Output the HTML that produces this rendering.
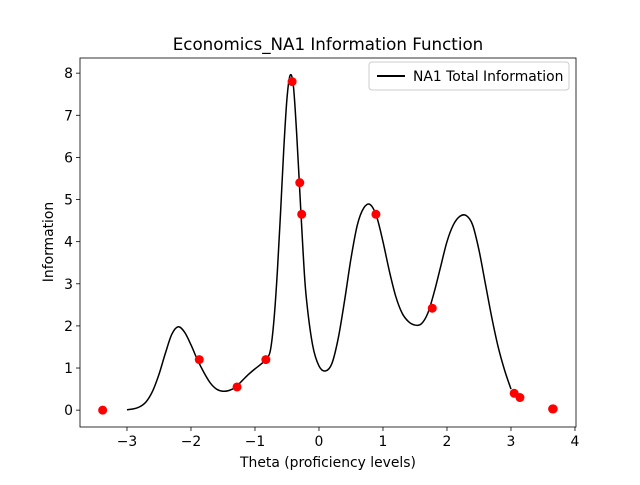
<!DOCTYPE html>
<html><head><meta charset="utf-8"><style>
body{margin:0;background:#fff;}
svg text{font-family:"DejaVu Sans","Liberation Sans",sans-serif;fill:#000;}
</style></head><body>
<svg id="chart" width="640" height="480" xmlns="http://www.w3.org/2000/svg">
<rect width="640" height="480" fill="#fff"/>
<text x="328" y="50" font-size="16.7" text-anchor="middle">Economics_NA1 Information Function</text>
<g id="plot"></g>
<text x="328" y="467" font-size="13.9" text-anchor="middle">Theta (proficiency levels)</text>
<text transform="translate(53,242) rotate(-90)" font-size="13.9" text-anchor="middle">Information</text>
<g>
<rect x="369" y="62" width="200" height="28" rx="3" fill="#fff" stroke="#ccc"/>
<line x1="377" y1="76" x2="405" y2="76" stroke="#000" stroke-width="2"/>
<text x="413" y="81" font-size="13.9">NA1 Total Information</text>
</g>
</svg>
<script>
const thetaVals=[-3.0,-2.9,-2.8,-2.7,-2.6,-2.5,-2.4,-2.3,-2.2,-2.1,-2.0,-1.9,-1.8,-1.7,-1.6,-1.5,-1.4,-1.3,-1.2,-1.1,-1.0,-0.9,-0.8,-0.75,-0.7,-0.65,-0.6,-0.55,-0.5,-0.45,-0.4,-0.35,-0.3,-0.25,-0.2,-0.1,0.0,0.1,0.2,0.3,0.4,0.5,0.6,0.7,0.8,0.9,1.0,1.1,1.2,1.3,1.4,1.5,1.6,1.7,1.8,1.9,2.0,2.1,2.2,2.3,2.4,2.5,2.6,2.7,2.8,2.9,3.0];
const infoVals=[0.01,0.03,0.08,0.2,0.45,0.85,1.35,1.8,1.98,1.85,1.55,1.2,0.9,0.65,0.5,0.45,0.47,0.55,0.7,0.85,0.98,1.1,1.25,1.5,2.2,3.3,4.7,6.2,7.4,7.95,7.7,6.6,5.2,3.8,2.7,1.55,1.05,0.93,1.1,1.7,2.6,3.6,4.4,4.8,4.88,4.6,4.0,3.3,2.7,2.3,2.1,2.02,2.05,2.3,2.8,3.4,4.0,4.4,4.6,4.62,4.4,3.8,3.0,2.2,1.5,0.95,0.5];
const pointTheta=[-3.38,-1.87,-1.28,-0.83,-0.42,-0.30,-0.27,0.89,1.77,3.05,3.14,3.65,3.66];
const pointInfo=[0.0,1.2,0.55,1.2,7.8,5.4,4.65,4.65,2.42,0.4,0.3,0.03,0.03];
const xTicks=[-3,-2,-1,0,1,2,3,4];
const yTicks=[0,1,2,3,4,5,6,7,8];

const L=80,R=576,T=58,B=427;
const xMin=-3.734,xMax=4.016,yMin=-0.40,yMax=8.36;
const sx=v=>L+(v-xMin)/(xMax-xMin)*(R-L);
const sy=v=>B-(v-yMin)/(yMax-yMin)*(B-T);
const NS="http://www.w3.org/2000/svg";
const g=document.getElementById('plot');
function mk(tag,attrs){const e=document.createElementNS(NS,tag);for(const k in attrs)e.setAttribute(k,attrs[k]);g.appendChild(e);return e;}

xTicks.forEach(t=>{
  const x=sx(t);
  const tk=mk('line',{x1:x,y1:B,x2:x,y2:B+4,stroke:'#000','stroke-width':0.8});
  
  
  const tx=mk('text',{x:x,y:B+19,'font-size':13.9,'text-anchor':'middle'});
  tx.textContent=(t<0?'\u2212'+(-t):String(t));
  
  
});
yTicks.forEach(t=>{
  const y=sy(t);
  const tk=mk('line',{x1:L-4,y1:y,x2:L,y2:y,stroke:'#000','stroke-width':0.8});
  
  
  const tx=mk('text',{x:L-7,y:y+5,'font-size':13.9,'text-anchor':'end'});
  tx.textContent=String(t);
  
  
});

const P=thetaVals.map((t,i)=>[sx(t),sy(infoVals[i])]);
let d='M'+P[0][0]+','+P[0][1];
for(let i=0;i<P.length-1;i++){
  const p0=P[Math.max(0,i-1)],p1=P[i],p2=P[i+1],p3=P[Math.min(P.length-1,i+2)];
  const c1=[p1[0]+(p2[0]-p0[0])/6,p1[1]+(p2[1]-p0[1])/6];
  const c2=[p2[0]-(p3[0]-p1[0])/6,p2[1]-(p3[1]-p1[1])/6];
  d+=' C'+c1+' '+c2+' '+p2;
}
const line=mk('path',{d:d,fill:'none',stroke:'#000','stroke-width':1.5});



pointTheta.forEach((t,i)=>{
  const c=mk('circle',{cx:sx(t),cy:sy(pointInfo[i]),r:4.5,fill:'#ff0000'});
  
  
});

const fr=mk('rect',{x:L,y:T,width:R-L,height:B-T,fill:'none',stroke:'#000','stroke-width':0.8});


</script>
</body></html>
